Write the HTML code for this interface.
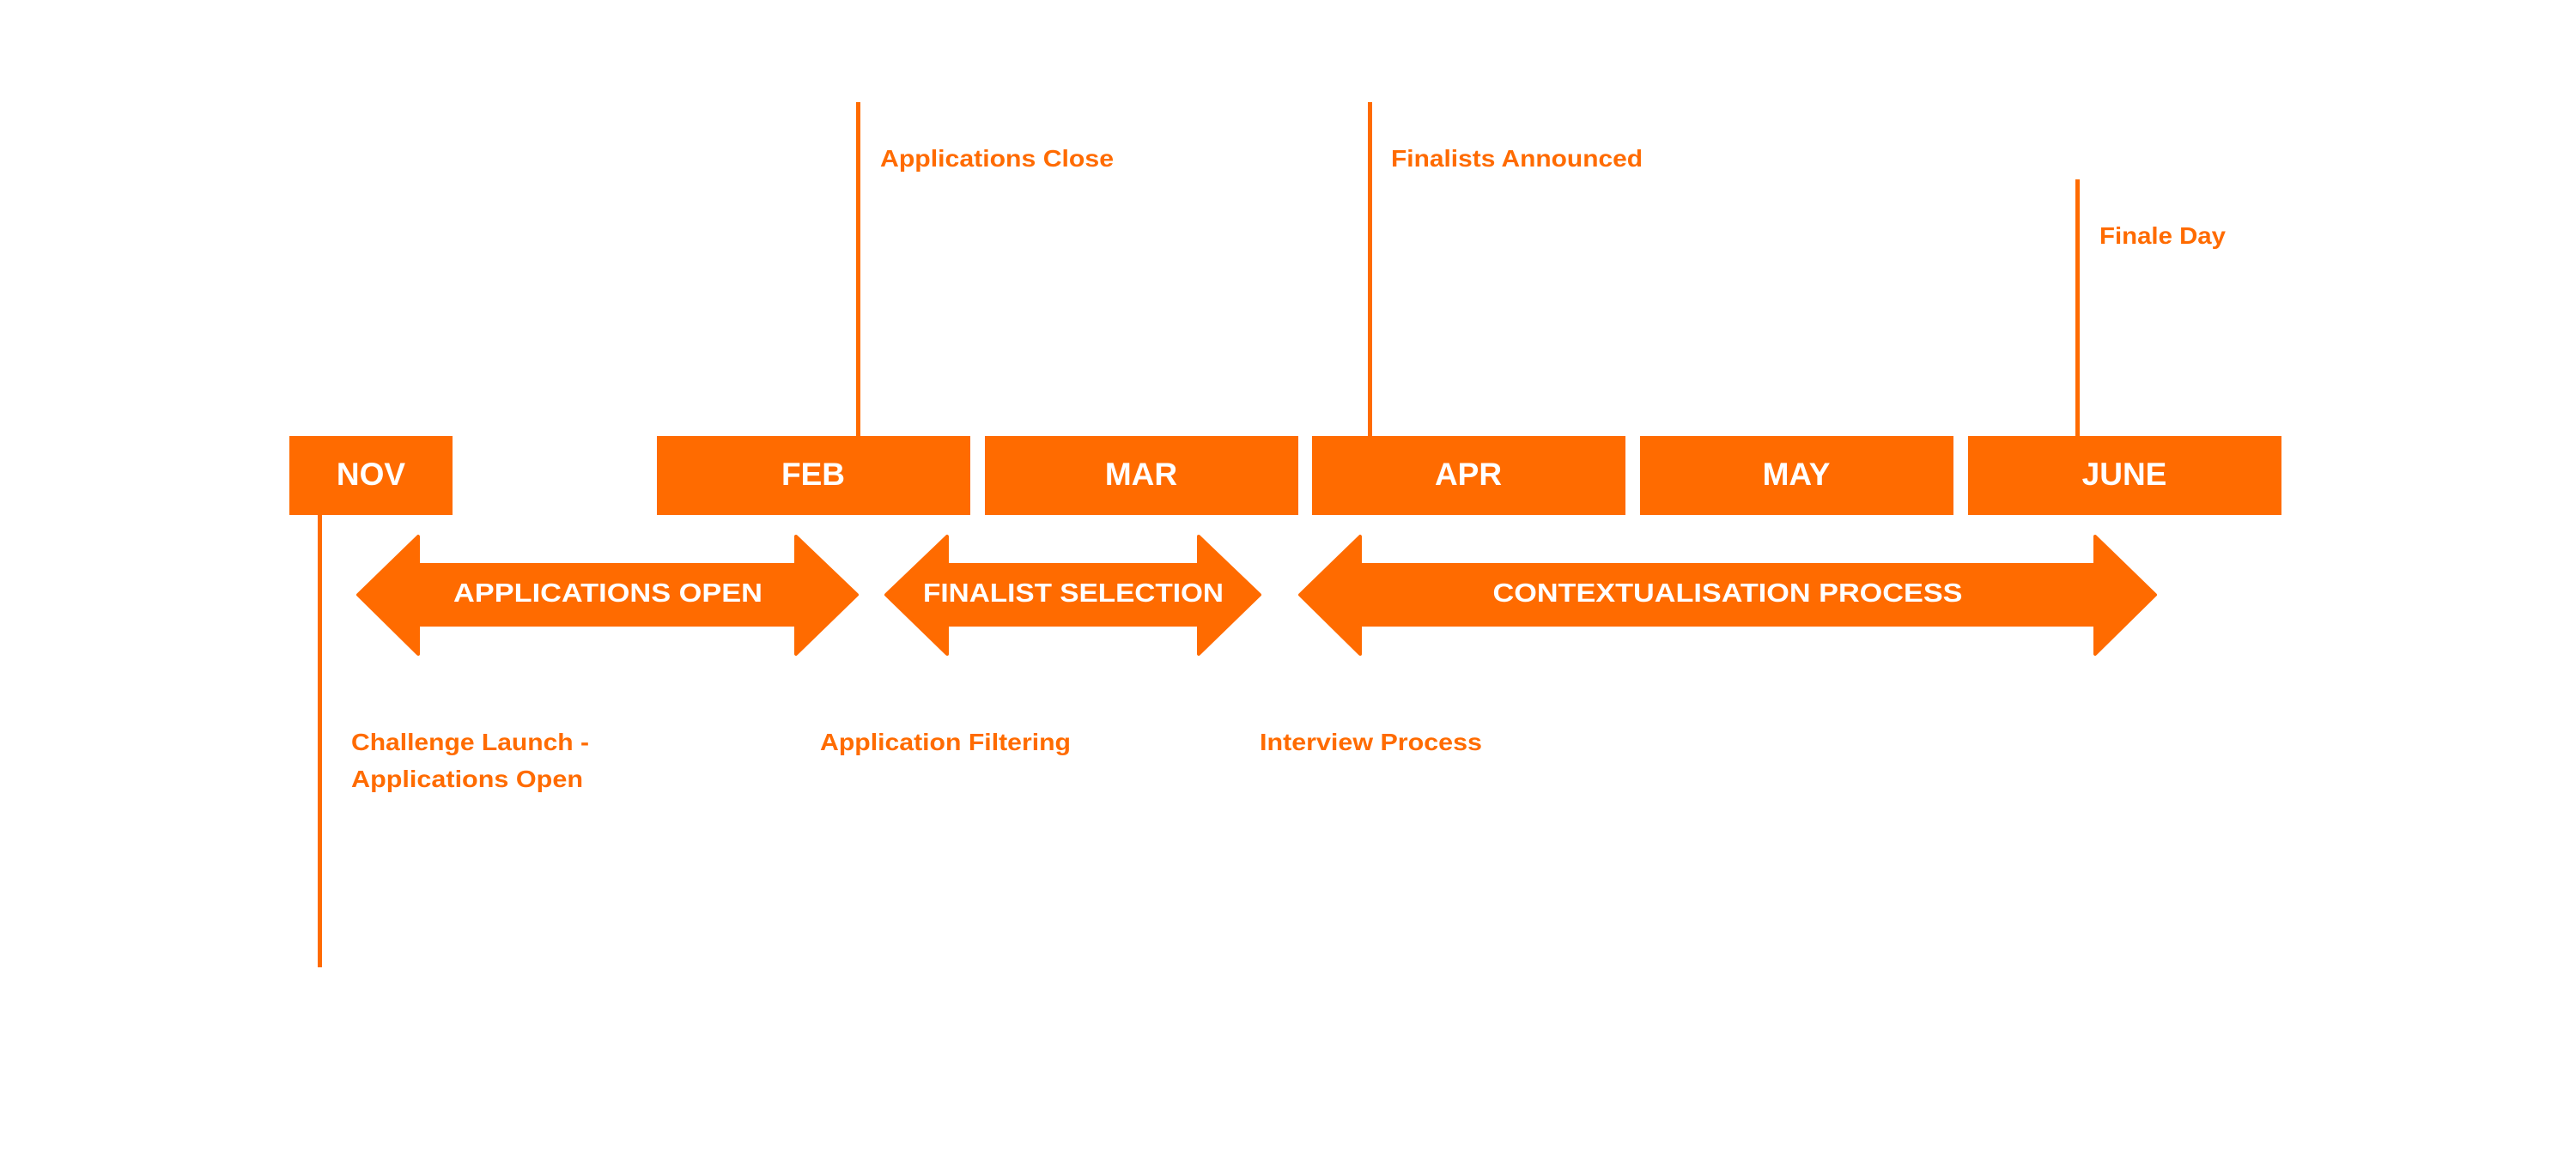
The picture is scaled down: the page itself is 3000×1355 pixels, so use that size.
<!DOCTYPE html>
<html><head><meta charset="utf-8"><style>
html,body{margin:0;padding:0;background:#fff;}
body{width:3000px;height:1350px;overflow:hidden;}
</style></head><body>
<svg width="3000" height="1350" viewBox="0 0 3000 1350" xmlns="http://www.w3.org/2000/svg">
<g fill="#FF6B00">
<rect x="337" y="508" width="190" height="92"/>
<rect x="765" y="508" width="365" height="92"/>
<rect x="1147" y="508" width="365" height="92"/>
<rect x="1528" y="508" width="365" height="92"/>
<rect x="1910" y="508" width="365" height="92"/>
<rect x="2292" y="508" width="365" height="92"/>
<rect x="997" y="119" width="5" height="390"/>
<rect x="1593" y="119" width="5" height="390"/>
<rect x="2417" y="209" width="5" height="300"/>
<rect x="370" y="599" width="5" height="528"/>
</g>
<g fill="#FF6B00" stroke="#FF6B00" stroke-width="4" stroke-linejoin="round">
<polygon points="417,693 487,625 487,658 927,658 927,625 998,693 927,762 927,728 487,728 487,762"/>
<polygon points="1032,693 1103,625 1103,658 1396,658 1396,625 1467,693 1396,762 1396,728 1103,728 1103,762"/>
<polygon points="1514,693 1584,625 1584,658 2440,658 2440,625 2510,693 2440,762 2440,728 1584,728 1584,762"/>
</g>
<g font-family="Liberation Sans, sans-serif" font-weight="bold" fill="#fff" text-anchor="middle" font-size="37">
<text x="432" y="565">NOV</text>
<text x="947" y="565">FEB</text>
<text x="1329" y="565">MAR</text>
<text x="1710" y="565">APR</text>
<text x="2092" y="565">MAY</text>
<text x="2474" y="565">JUNE</text>
</g>
<g font-family="Liberation Sans, sans-serif" font-weight="bold" fill="#fff" text-anchor="middle" font-size="31">
<text x="708" y="701" textLength="360" lengthAdjust="spacingAndGlyphs">APPLICATIONS OPEN</text>
<text x="1250" y="701" textLength="350" lengthAdjust="spacingAndGlyphs">FINALIST SELECTION</text>
<text x="2012" y="701" textLength="547" lengthAdjust="spacingAndGlyphs">CONTEXTUALISATION PROCESS</text>
</g>
<g font-family="Liberation Sans, sans-serif" font-weight="bold" fill="#FF6B00" font-size="28">
<text x="1025" y="194" textLength="272" lengthAdjust="spacingAndGlyphs">Applications Close</text>
<text x="1620" y="194" textLength="293" lengthAdjust="spacingAndGlyphs">Finalists Announced</text>
<text x="2445" y="284" textLength="147" lengthAdjust="spacingAndGlyphs">Finale Day</text>
<text x="409" y="874" textLength="277" lengthAdjust="spacingAndGlyphs">Challenge Launch -</text>
<text x="409" y="917" textLength="270" lengthAdjust="spacingAndGlyphs">Applications Open</text>
<text x="955" y="874" textLength="292" lengthAdjust="spacingAndGlyphs">Application Filtering</text>
<text x="1467" y="874" textLength="259" lengthAdjust="spacingAndGlyphs">Interview Process</text>
</g>
</svg>
</body></html>
